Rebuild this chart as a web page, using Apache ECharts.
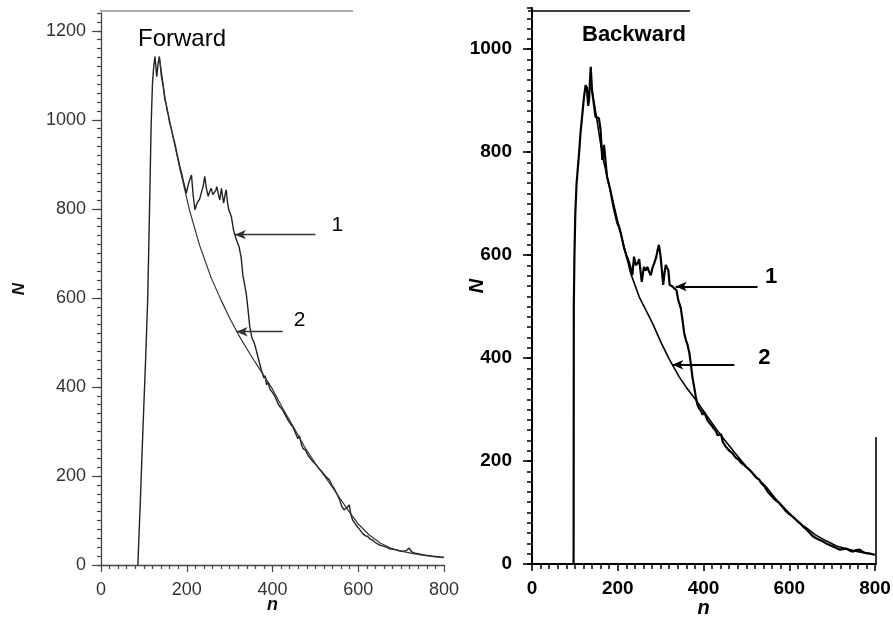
<!DOCTYPE html>
<html>
<head>
<meta charset="utf-8">
<script src="https://cdn.jsdelivr.net/npm/echarts@6/dist/echarts.min.js"></script>
<style>
html,body{margin:0;padding:0;background:#fff;}
#c{width:893px;height:619px;}
</style>
</head>
<body>
<div id="c"></div>
<script>
// ---- data (n, N) ----
const xTicks = [0, 200, 400, 600, 800];
const fwdYTicks = [0, 200, 400, 600, 800, 1000, 1200];
const bwdYTicks = [0, 200, 400, 600, 800, 1000];

// Forward, curve 1 (measured spectrum)
const fwdCurve1 = [
 [86,0],[92,150],[98,310],[104,460],[109,600],[113,790],[117,990],[120,1080],[123,1120],[126,1142],
 [130,1097],[133,1125],[136,1142],[141,1097],[145,1075],[149,1045],[152,1035],[154,1022],[157,1010],
 [160,993],[164,980],[168,962],[172,948],[176,930],[180,912],[184,895],[188,880],[192,862],[196,848],
 [199,835],[205,860],[211,876],[215,830],[219,798],[223,810],[226,816],[230,822],[234,824],[238,850],
 [242,873],[246,845],[250,828],[254,840],[257,846],[261,832],[265,828],[268,842],[270,850],[274,832],
 [277,820],[281,846],[284,825],[286,813],[289,830],[292,843],[295,815],[298,798],[304,783],[309,753],
 [312,742],[317,728],[322,715],[327,690],[331,650],[335,630],[339,608],[343,573],[347,535],[352,510],
 [357,500],[362,483],[368,460],[374,438],[380,420],[383,425],[386,405],[390,410],[394,395],[398,398],
 [401,386],[406,378],[410,382],[414,360],[418,355],[424,348],[428,340],[432,344],[436,326],[441,318],
 [447,311],[451,302],[455,300],[459,284],[463,290],[467,272],[471,262],[477,258],[483,246],[487,248],
 [491,236],[495,232],[501,226],[507,218],[511,222],[515,210],[519,205],[525,198],[529,200],[533,191],
 [539,178],[544,172],[550,160],[556,148],[561,133],[567,124],[573,128],[579,135],[583,112],[587,101],
 [592,94],[598,86],[604,79],[610,71],[616,66],[622,64],[628,58],[633,56],[640,50],[649,45],[656,43],
 [664,41],[672,37],[680,35],[688,34],[695,32],[700,31],[707,31],[713,33],[719,38],[724,30],[730,27],
 [734,26],[742,25],[750,23],[757,22],[765,21],[773,20],[781,19],[790,18],[800,17]
];
// Forward, curve 2 (calculated)
const fwdCurve2 = [
 [136,1142],[150,1045],[165,975],[184,890],[207,795],[230,718],[257,645],[280,595],[300,555],[325,510],
 [350,470],[377,430],[400,395],[425,350],[450,308],[475,265],[500,228],[525,195],[550,160],[575,125],
 [600,92],[625,68],[650,50],[675,38],[700,31],[725,26],[750,22],[775,19],[800,17]
];

// Backward, curve 1 (measured spectrum)
const bwdCurve1 = [
 [97,0],[97.5,500],[99,600],[101,680],[104,740],[107,770],[110,800],[113,836],[117,870],[121,905],
 [125,930],[128,925],[131,890],[133,901],[135,935],[137,966],[140,920],[144,895],[148,869],[152,872],
 [156,866],[160,843],[164,785],[168,814],[172,778],[175,752],[179,739],[183,725],[187,707],[191,690],
 [195,676],[199,662],[203,655],[208,640],[214,616],[220,600],[226,587],[230,575],[234,561],[238,597],
 [242,580],[246,584],[250,592],[253,570],[256,548],[261,577],[265,570],[269,577],[273,568],[277,561],
 [281,575],[285,584],[290,597],[293,610],[296,620],[300,597],[303,570],[306,542],[309,565],[312,581],
 [315,575],[318,571],[321,542],[326,540],[331,536],[337,532],[341,513],[347,497],[351,474],[355,448],
 [359,435],[363,425],[367,410],[371,385],[374,364],[378,345],[382,325],[386,309],[390,302],[394,298],
 [398,290],[402,295],[406,286],[410,278],[414,275],[418,270],[421,267],[425,262],[429,258],[433,250],
 [437,248],[441,252],[445,237],[449,232],[452,228],[456,225],[460,220],[464,219],[468,215],[472,210],
 [476,206],[480,204],[483,202],[487,197],[491,195],[495,192],[499,189],[503,186],[507,183],[511,180],
 [515,177],[519,172],[523,168],[527,166],[530,164],[534,158],[538,155],[542,151],[550,140],[558,133],
 [565,126],[571,122],[577,118],[585,110],[593,102],[600,97],[608,92],[616,86],[624,80],[632,73],
 [640,67],[648,60],[655,54],[663,50],[670,47],[678,44],[686,40],[694,37],[702,34],[710,31],[717,28],
 [725,29],[733,30],[741,26],[749,24],[756,27],[764,28],[772,23],[780,21],[790,20],[799,18]
];
// Backward, curve 2 (calculated)
const bwdCurve2 = [
 [140,920],[150,870],[165,790],[180,735],[203,655],[230,565],[250,519],[281,468],[300,432],[320,398],
 [343,364],[360,343],[382,319],[406,290],[430,262],[452,238],[475,214],[499,190],[525,167],[546,150],
 [570,125],[593,105],[620,82],[640,70],[660,57],[686,45],[710,35],[735,29],[760,24],[780,21],[800,18]
];

// curve-number callouts: label text, label position, arrow start, arrow tip (data coords)
const fwdCallouts = [
  {name:'1', text:[551,764], from:[500,742], to:[312,742]},
  {name:'2', text:[463,551], from:[424,524], to:[316,524]}
];
const bwdCallouts = [
  {name:'1', text:[558,558], from:[526,539], to:[335,539]},
  {name:'2', text:[542,400], from:[472,387], to:[327,387]}
];

// ---- chart ----
const FONT = '"Liberation Sans", Arial, sans-serif';
const chart = echarts.init(document.getElementById('c'), null, {renderer:'canvas'});
const plain = v => String(v);

function markers(callouts, color, width, fontWeight, fontSize){
  return {
    markLine: {
      silent: true, animation: false,
      symbol: ['none','arrow'], symbolSize: [7, 11],
      lineStyle: {color: color, width: width, type: 'solid'},
      label: {show: false},
      data: callouts.map(c => [{coord: c.from}, {coord: c.to}])
    },
    markPoint: {
      silent: true, animation: false,
      symbol: 'circle', symbolSize: 1,
      itemStyle: {color: 'rgba(0,0,0,0)'},
      label: {show: true, position: 'inside', formatter: p => p.name,
              fontFamily: FONT, fontSize: fontSize, fontWeight: fontWeight, color: '#000'},
      data: callouts.map(c => ({name: c.name, coord: c.text}))
    }
  };
}

const leftAxisColor = '#444';
const option = {
  animation: false,
  backgroundColor: '#fff',
  title: [
    {text: 'Forward', left: 133, top: 22,
     textStyle: {fontFamily: FONT, fontSize: 24, fontWeight: 'normal', color: '#000'}},
    {text: 'Backward', left: 577, top: 19,
     textStyle: {fontFamily: FONT, fontSize: 22, fontWeight: 'bold', color: '#000'}}
  ],
  grid: [
    {left: 101, top: 13, width: 343, height: 552, containLabel: false, outerBoundsMode: 'none'},
    {left: 532, top: 8, width: 343, height: 556, containLabel: false, outerBoundsMode: 'none'}
  ],
  xAxis: [
    {gridIndex: 0, type: 'value', min: 0, max: 800, interval: 200,
     name: 'n', nameLocation: 'middle', nameGap: 31, nameMoveOverlap: false,
     nameTextStyle: {fontFamily: FONT, fontSize: 18, fontWeight: 'bold', fontStyle: 'italic', color: '#111'},
     axisLine: {show: true, lineStyle: {color: leftAxisColor, width: 1.3}},
     axisTick: {show: true, length: 7, lineStyle: {color: leftAxisColor, width: 1.2}},
     minorTick: {show: true, splitNumber: 10, length: 4, lineStyle: {color: leftAxisColor, width: 1.2}},
     axisLabel: {margin: 16, fontFamily: FONT, fontSize: 18, color: '#333', formatter: plain,
                 customValues: xTicks},
     splitLine: {show: false}},
    {gridIndex: 1, type: 'value', min: 0, max: 800, interval: 200,
     name: 'n', nameLocation: 'middle', nameGap: 34, nameMoveOverlap: false,
     nameTextStyle: {fontFamily: FONT, fontSize: 20, fontWeight: 'bold', fontStyle: 'italic', color: '#000'},
     axisLine: {show: true, lineStyle: {color: '#000', width: 2}},
     axisTick: {show: true, length: 7, lineStyle: {color: '#000', width: 1.6}},
     minorTick: {show: true, splitNumber: 10, length: 5, lineStyle: {color: '#000', width: 1.5}},
     axisLabel: {margin: 15, fontFamily: FONT, fontSize: 19, fontWeight: 'bold', color: '#000', formatter: plain,
                 customValues: xTicks},
     splitLine: {show: false}}
  ],
  yAxis: [
    {gridIndex: 0, type: 'value', position: 'left', min: 0, max: 1240, interval: 200,
     name: 'N', nameLocation: 'middle', nameGap: 73, nameRotate: 90, nameMoveOverlap: false,
     nameTextStyle: {fontFamily: FONT, fontSize: 17, fontWeight: 'bold', fontStyle: 'italic', color: '#111'},
     axisLine: {show: true, lineStyle: {color: leftAxisColor, width: 1.3}},
     axisTick: {show: true, length: 9, customValues: fwdYTicks, lineStyle: {color: leftAxisColor, width: 1.2}},
     axisLabel: {margin: 15, fontFamily: FONT, fontSize: 18, color: '#333', formatter: plain,
                 customValues: fwdYTicks},
     splitLine: {show: false}},
    {gridIndex: 0, type: 'value', position: 'left', offset: 0, min: 0, max: 1240, interval: 20,
     axisLine: {show: false}, axisLabel: {show: false}, splitLine: {show: false},
     axisTick: {show: true, length: 4, lineStyle: {color: leftAxisColor, width: 1.2}}},
    {gridIndex: 1, type: 'value', position: 'left', min: 0, max: 1080, interval: 200,
     name: 'N', nameLocation: 'middle', nameGap: 45, nameRotate: 90, nameMoveOverlap: false,
     nameTextStyle: {fontFamily: FONT, fontSize: 20, fontWeight: 'bold', fontStyle: 'italic', color: '#000'},
     axisLine: {show: true, lineStyle: {color: '#000', width: 2}},
     axisTick: {show: true, length: 9, customValues: bwdYTicks, lineStyle: {color: '#000', width: 1.6}},
     axisLabel: {margin: 20, fontFamily: FONT, fontSize: 19, fontWeight: 'bold', color: '#000', formatter: plain,
                 customValues: bwdYTicks},
     splitLine: {show: false}},
    {gridIndex: 1, type: 'value', position: 'left', offset: 0, min: 0, max: 1080, interval: 20,
     axisLine: {show: false}, axisLabel: {show: false}, splitLine: {show: false},
     axisTick: {show: true, length: 5, lineStyle: {color: '#000', width: 1.5}}}
  ],
  series: [
    Object.assign({type: 'line', name: 'Forward 1', xAxisIndex: 0, yAxisIndex: 0, data: fwdCurve1,
     showSymbol: false, symbol: 'none', lineStyle: {color: '#222', width: 1.4}},
     markers(fwdCallouts, '#333', 1.4, 'normal', 21)),
    {type: 'line', name: 'Forward 2', xAxisIndex: 0, yAxisIndex: 0, data: fwdCurve2,
     showSymbol: false, symbol: 'none', lineStyle: {color: '#333', width: 1.2}},
    Object.assign({type: 'line', name: 'Backward 1', xAxisIndex: 1, yAxisIndex: 2, data: bwdCurve1,
     showSymbol: false, symbol: 'none', lineStyle: {color: '#000', width: 2.2}},
     markers(bwdCallouts, '#000', 2, 'bold', 22)),
    {type: 'line', name: 'Backward 2', xAxisIndex: 1, yAxisIndex: 2, data: bwdCurve2,
     showSymbol: false, symbol: 'none', lineStyle: {color: '#000', width: 1.6}}
  ],
  graphic: [
    {type: 'line', shape: {x1: 100, y1: 11, x2: 353, y2: 11}, style: {stroke: '#555', lineWidth: 1.2}, silent: true},
    {type: 'line', shape: {x1: 528, y1: 11, x2: 690, y2: 11}, style: {stroke: '#000', lineWidth: 1.6}, silent: true},
    {type: 'line', shape: {x1: 876, y1: 437, x2: 876, y2: 565}, style: {stroke: '#000', lineWidth: 1.6}, silent: true}
  ]
};
chart.setOption(option);
</script>
</body>
</html>
